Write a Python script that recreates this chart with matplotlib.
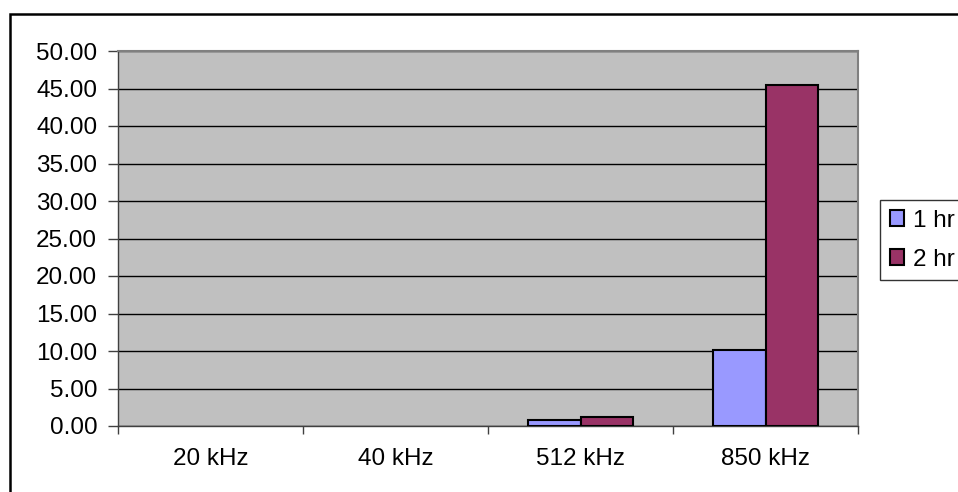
import numpy as np
import matplotlib
matplotlib.use("Agg")
import matplotlib.pyplot as plt
from matplotlib.patches import Rectangle

categories = ["20 kHz", "40 kHz", "512 kHz", "850 kHz"]
series_names = ["1 hr", "2 hr"]
hr1 = [0.0, 0.0, 0.8, 10.1]
hr2 = [0.0, 0.0, 1.25, 45.5]
y_ticks = [0, 5, 10, 15, 20, 25, 30, 35, 40, 45, 50]

plt.rcParams["font.family"] = ["Liberation Sans", "DejaVu Sans"]
fs = 17.5

fig = plt.figure(figsize=(9.58, 4.92), dpi=100)
ax = fig.add_axes([118 / 958, 1 - 426 / 492, 740 / 958, 375 / 492])
ax.set_facecolor("#C0C0C0")

x = np.arange(len(categories))
w = 1 / 3.5
for vals, off, col, name in [(hr1, -w / 2, "#9999FF", series_names[0]),
                             (hr2, w / 2, "#993366", series_names[1])]:
    lws = [1.5 if v > 0 else 0 for v in vals]
    ax.bar(x + off, vals, w, color=col, edgecolor="black", linewidth=lws,
           label=name, zorder=3)

ax.set_xlim(-0.5, len(categories) - 0.5)
ax.set_ylim(0, 50)
ax.set_yticks(y_ticks)
ax.set_yticklabels([f"{v:.2f}" for v in y_ticks])
ax.set_xticks(x)
ax.set_xticklabels(categories)
ax.set_xticks(np.arange(len(categories) + 1) - 0.5, minor=True)
ax.tick_params(axis="x", which="major", length=0, pad=16, labelsize=fs)
ax.tick_params(axis="x", which="minor", length=6, width=1, color="#404040")
ax.tick_params(axis="y", length=7, width=1, pad=8, labelsize=fs, color="#404040")
ax.yaxis.grid(True, color="black", linewidth=1, zorder=1)
ax.set_axisbelow(True)
for s in ["top", "right"]:
    ax.spines[s].set_color("#808080")
    ax.spines[s].set_linewidth(1.5)
for s in ["left", "bottom"]:
    ax.spines[s].set_color("#404040")
    ax.spines[s].set_linewidth(1)

leg = ax.legend(loc="upper left", bbox_to_anchor=(880 / 958, 1 - 200 / 492),
                bbox_transform=fig.transFigure, fontsize=fs, frameon=True,
                fancybox=False, edgecolor="black", handlelength=0.6,
                handleheight=0.6, handletextpad=0.35, borderpad=0.4,
                labelspacing=0.7, borderaxespad=0)
leg.get_frame().set_linewidth(1)
for h in leg.legend_handles:
    h.set_linewidth(1.5)

# outer chart border (cropped at right and bottom)
fig.patches.append(Rectangle((10 / 958, -0.1), 1.2, 1 - 14 / 492 + 0.1,
                             transform=fig.transFigure, fill=False,
                             edgecolor="black", linewidth=1.8))

fig.savefig("out.png", dpi=100)
